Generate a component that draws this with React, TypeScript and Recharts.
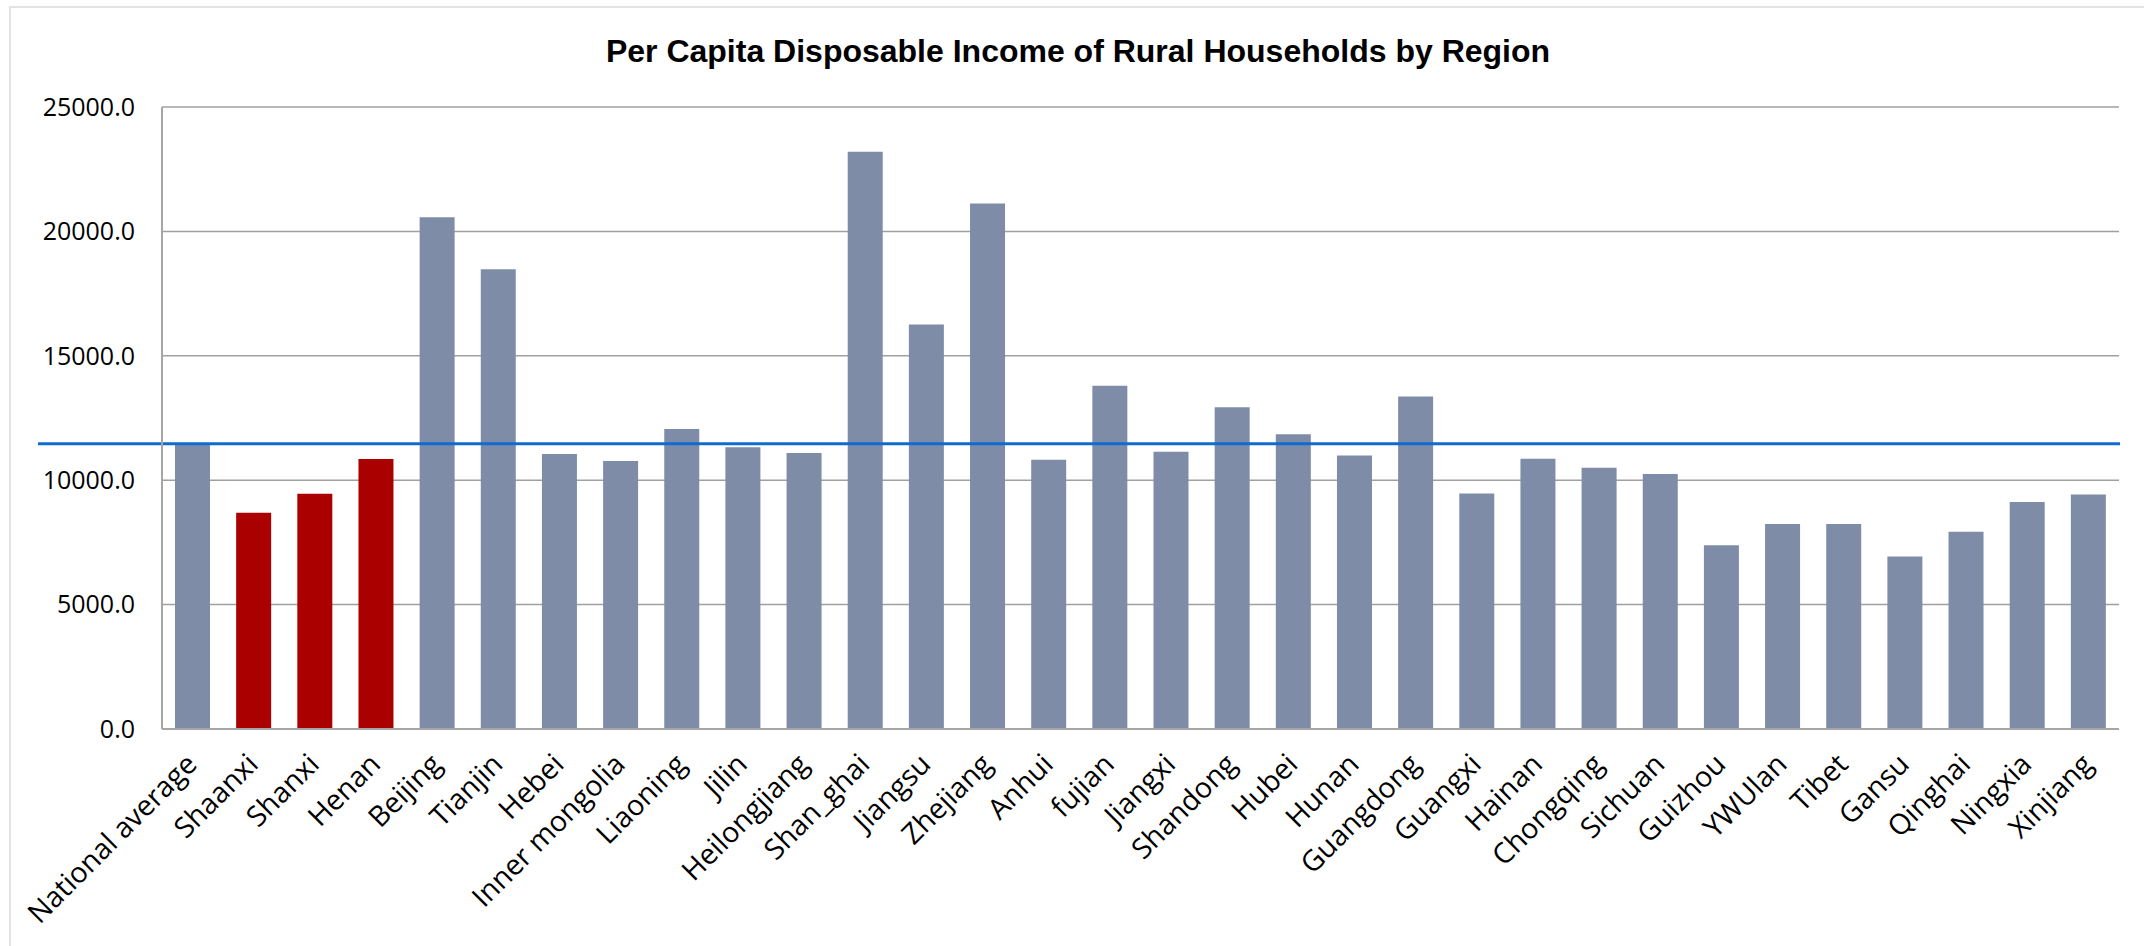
import React from "react";
import { BarChart, Bar, XAxis, YAxis, CartesianGrid, Cell, ReferenceLine } from "recharts";

const regions = [
  "National average", "Shaanxi", "Shanxi", "Henan", "Beijing", "Tianjin", "Hebei",
  "Inner mongolia", "Liaoning", "Jilin", "Heilongjiang", "Shan_ghai", "Jiangsu",
  "Zhejiang", "Anhui", "fujian", "Jiangxi", "Shandong", "Hubei", "Hunan", "Guangdong",
  "Guangxi", "Hainan", "Chongqing", "Sichuan", "Guizhou", "YWUlan", "Tibet", "Gansu",
  "Qinghai", "Ningxia", "Xinjiang",
];

const incomes = [
  11422, 8689, 9454, 10853, 20569, 18482, 11051, 10776, 12057, 11326, 11095, 23205,
  16257, 21125, 10821, 13793, 11139, 12930, 11844, 10993, 13360, 9467, 10858, 10505,
  10247, 7387, 8242, 8244, 6936, 7933, 9119, 9425,
];

const highlighted = ["Shaanxi", "Shanxi", "Henan"];

const averageLine = 11470;

const yTicks = [0, 5000, 10000, 15000, 20000, 25000];

const title = "Per Capita Disposable Income of Rural Households by Region";

const data = regions.map((name, i) => ({ name, value: incomes[i] }));

const W = 2144;
const H = 946;

const XTick = (props: any) => {
  const { x, y, payload } = props;
  return (
    <g transform={`translate(${x + 6},${y + 37})`}>
      <text
        x={0}
        y={0}
        textAnchor="end"
        transform="rotate(-45)"
        fontFamily="Open Sans"
        fontSize={28.5}
        fill="#000"
      >
        {payload.value}
      </text>
    </g>
  );
};

const AvgLine = (props: any) => {
  const { y1, x2 } = props;
  return <line x1={38} y1={y1} x2={x2 + 1} y2={y1} stroke="#0f6bd0" strokeWidth={3} />;
};

export default function App() {
  return (
    <div style={{ position: "absolute", left: 0, top: 0, width: W, height: H, background: "#fff", overflow: "hidden" }}>
      <div
        style={{
          position: "absolute",
          left: 9,
          top: 6,
          width: 2150,
          height: 960,
          border: "2px solid #e3e3e3",
          boxSizing: "border-box",
        }}
      />
      <div
        style={{
          position: "absolute",
          left: 0,
          top: 0,
          width: 2156,
          textAlign: "center",
          fontFamily: "Liberation Sans, Arial, sans-serif",
          fontWeight: "bold",
          fontSize: 32,
          lineHeight: "40px",
          paddingTop: 31,
          color: "#000",
        }}
      >
        {title}
      </div>
      <div style={{ position: "absolute", left: 0, top: 0 }}>
        <BarChart
          width={W}
          height={H}
          data={data}
          margin={{ top: 107, right: 25, bottom: 0, left: 0 }}
          barCategoryGap="21%"
        >
          <CartesianGrid vertical={false} stroke="#a0a0a0" strokeWidth={1.5} />
          <XAxis
            dataKey="name"
            interval={0}
            height={217}
            tick={<XTick />}
            tickLine={false}
            tickSize={0}
            tickMargin={0}
            axisLine={{ stroke: "#a6a6a6", strokeWidth: 2 }}
          />
          <YAxis
            width={162}
            domain={[0, 25000]}
            ticks={yTicks}
            interval={0}
            tickFormatter={(v: number) => v.toFixed(1)}
            tickLine={false}
            tickSize={0}
            tickMargin={27}
            axisLine={{ stroke: "#a6a6a6", strokeWidth: 2 }}
            tick={{ fontFamily: "Open Sans", fontSize: 25, fill: "#000" }}
          />
          <Bar dataKey="value" barSize={35} isAnimationActive={false}>
            {data.map((d) => (
              <Cell key={d.name} fill={highlighted.includes(d.name) ? "#aa0000" : "#7f8ca8"} />
            ))}
          </Bar>
          <ReferenceLine y={averageLine} shape={<AvgLine />} ifOverflow="visible" />
        </BarChart>
      </div>
    </div>
  );
}
